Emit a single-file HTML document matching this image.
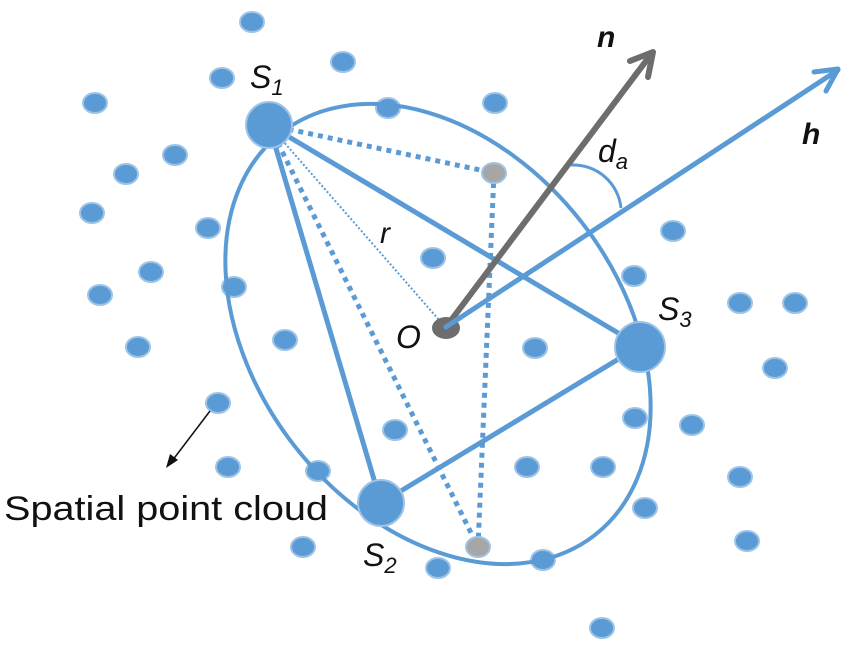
<!DOCTYPE html>
<html><head><meta charset="utf-8"><style>
html,body{margin:0;padding:0;background:#fff;width:850px;height:651px;overflow:hidden}
svg{display:block}
text{font-family:"Liberation Sans","DejaVu Sans",sans-serif;fill:#111}
</style></head><body>
<svg width="850" height="651" viewBox="0 0 850 651">
<g fill="#5b9bd5" stroke="#9dc3e6" stroke-width="2">
<ellipse cx="252" cy="22" rx="12" ry="10"/><ellipse cx="222" cy="78" rx="12" ry="10"/><ellipse cx="343" cy="62" rx="12" ry="10"/>
<ellipse cx="95" cy="103" rx="12" ry="10"/><ellipse cx="175" cy="155" rx="12" ry="10"/><ellipse cx="126" cy="174" rx="12" ry="10"/>
<ellipse cx="92" cy="213" rx="12" ry="10"/><ellipse cx="208" cy="228" rx="12" ry="10"/><ellipse cx="151" cy="272" rx="12" ry="10"/>
<ellipse cx="234" cy="287" rx="12" ry="10"/><ellipse cx="100" cy="295" rx="12" ry="10"/><ellipse cx="138" cy="347" rx="12" ry="10"/>
<ellipse cx="285" cy="340" rx="12" ry="10"/><ellipse cx="388" cy="108" rx="12" ry="10"/><ellipse cx="495" cy="103" rx="12" ry="10"/>
<ellipse cx="433" cy="258" rx="12" ry="10"/><ellipse cx="535" cy="348" rx="12" ry="10"/><ellipse cx="634" cy="276" rx="12" ry="10"/>
<ellipse cx="673" cy="231" rx="12" ry="10"/><ellipse cx="740" cy="303" rx="12" ry="10"/><ellipse cx="795" cy="303" rx="12" ry="10"/>
<ellipse cx="775" cy="368" rx="12" ry="10"/><ellipse cx="692" cy="425" rx="12" ry="10"/><ellipse cx="635" cy="418" rx="12" ry="10"/>
<ellipse cx="603" cy="467" rx="12" ry="10"/><ellipse cx="527" cy="467" rx="12" ry="10"/><ellipse cx="740" cy="477" rx="12" ry="10"/>
<ellipse cx="747" cy="541" rx="12" ry="10"/><ellipse cx="645" cy="508" rx="12" ry="10"/><ellipse cx="543" cy="560" rx="12" ry="10"/>
<ellipse cx="438" cy="568" rx="12" ry="10"/><ellipse cx="303" cy="547" rx="12" ry="10"/><ellipse cx="318" cy="471" rx="12" ry="10"/>
<ellipse cx="228" cy="467" rx="12" ry="10"/><ellipse cx="218" cy="403" rx="12" ry="10"/><ellipse cx="395" cy="430" rx="12" ry="10"/>
<ellipse cx="602" cy="628" rx="12" ry="10"/>
</g>
<ellipse cx="438" cy="334" rx="255" ry="182" transform="rotate(52 438 334)" fill="none" stroke="#5b9bd5" stroke-width="4"/>
<g stroke="#5b9bd5" stroke-width="5" fill="none">
<line x1="269" y1="125" x2="640" y2="346"/>
<line x1="269" y1="125" x2="381" y2="503"/>
<line x1="381" y1="503" x2="640" y2="346"/>
</g>
<g stroke="#5b9bd5" stroke-width="5" fill="none" stroke-dasharray="5 5">
<line x1="269" y1="125" x2="494" y2="173"/>
<line x1="269" y1="125" x2="478" y2="547"/>
<line x1="494" y1="173" x2="478" y2="547"/>
</g>
<line x1="269" y1="125" x2="446" y2="328" stroke="#5b9bd5" stroke-width="2" stroke-dasharray="2 2"/>
<ellipse cx="494" cy="173" rx="12" ry="10" fill="#a6a6a6" stroke="#9dc3e6" stroke-width="2"/>
<ellipse cx="478" cy="547" rx="12" ry="10" fill="#a6a6a6" stroke="#9dc3e6" stroke-width="2"/>
<circle cx="269" cy="125" r="23" fill="#5b9bd5" stroke="#9dc3e6" stroke-width="2"/>
<circle cx="381" cy="503" r="23" fill="#5b9bd5" stroke="#9dc3e6" stroke-width="2"/>
<circle cx="640" cy="347" r="25" fill="#5b9bd5" stroke="#9dc3e6" stroke-width="2"/>
<path d="M571 165 A48 48 0 0 1 621 208" fill="none" stroke="#5b9bd5" stroke-width="3"/>
<ellipse cx="446" cy="328" rx="14" ry="11" fill="#6d6d6d"/>
<g stroke="#6d6d6d" stroke-width="6" fill="none" stroke-linecap="round" stroke-linejoin="round">
<line x1="446" y1="327" x2="652" y2="53"/>
<polyline points="630,61 653,52 648,77"/>
</g>
<g stroke="#5b9bd5" stroke-width="5" fill="none" stroke-linecap="round" stroke-linejoin="round">
<line x1="446" y1="327" x2="838" y2="70"/>
<polyline points="814,72 838,69 826,91"/>
</g>
<line x1="210" y1="411" x2="172" y2="461" stroke="#111" stroke-width="1.5"/>
<polygon points="166,468 170,454 178,460" fill="#111"/>
<text x="250" y="88" font-size="32" font-style="italic">S<tspan font-size="22" dy="7">1</tspan></text>
<text x="363" y="566" font-size="32" font-style="italic">S<tspan font-size="22" dy="7">2</tspan></text>
<text x="658" y="320" font-size="32" font-style="italic">S<tspan font-size="22" dy="7">3</tspan></text>
<text x="396" y="348" font-size="32" font-style="italic">O</text>
<text x="380" y="243" font-size="30" font-style="italic">r</text>
<text x="598" y="162" font-size="32" font-style="italic">d<tspan font-size="22" dy="7">a</tspan></text>
<text x="597" y="47" font-size="30" font-style="italic" font-weight="bold">n</text>
<text x="802" y="144" font-size="30" font-style="italic" font-weight="bold">h</text>
<text x="4" y="520" font-size="34" textLength="324" lengthAdjust="spacingAndGlyphs">Spatial point cloud</text>
</svg>
</body></html>
